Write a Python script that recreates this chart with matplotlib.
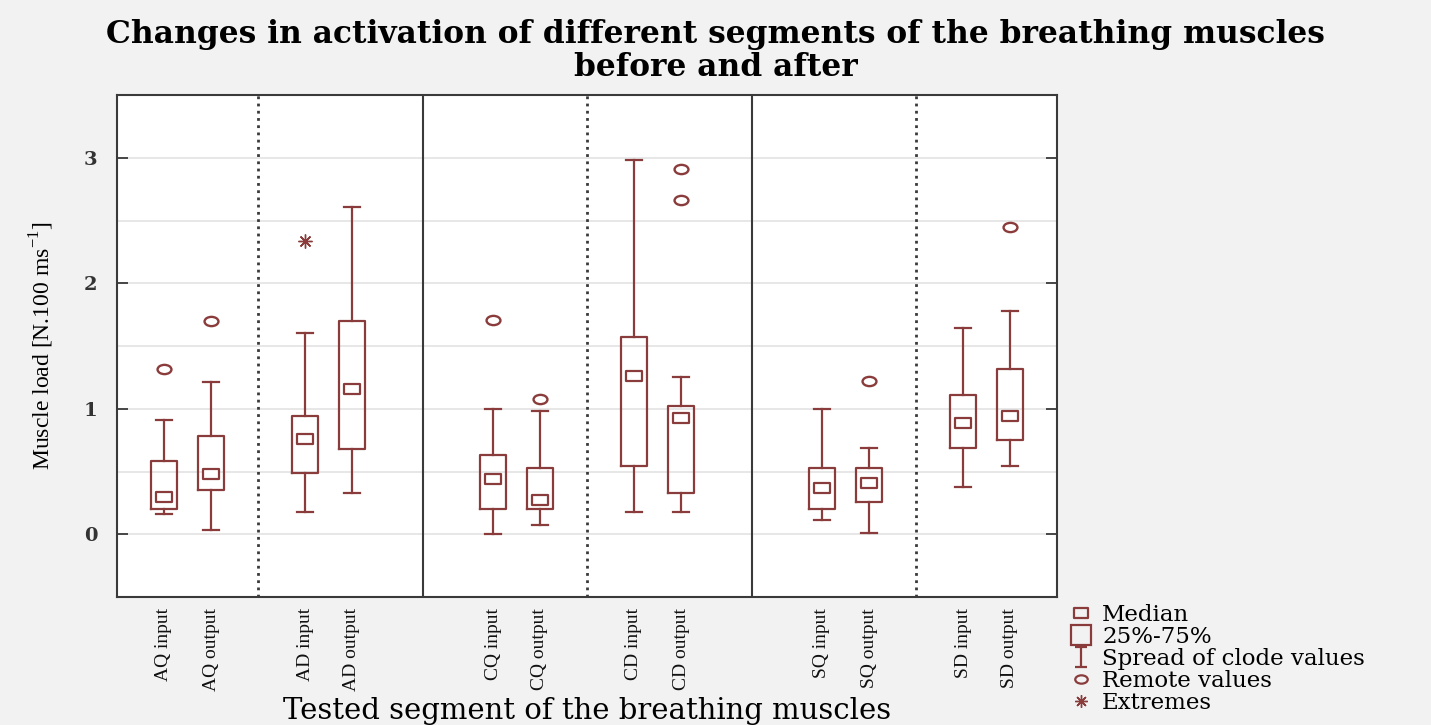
import numpy as np
import matplotlib
matplotlib.use("Agg")
from matplotlib import pyplot as plt
from matplotlib.path import Path
from matplotlib.lines import Line2D

# data (Muscle load, N.100 ms^-1)
labels = ["AQ input", "AQ output", "AD input", "AD output",
          "CQ input", "CQ output", "CD input", "CD output",
          "SQ input", "SQ output", "SD input", "SD output"]
q1 = [0.20, 0.35, 0.49, 0.68, 0.20, 0.20, 0.54, 0.33, 0.20, 0.26, 0.69, 0.75]
med = [0.30, 0.48, 0.76, 1.16, 0.44, 0.27, 1.26, 0.93, 0.37, 0.41, 0.89, 0.94]
q3 = [0.58, 0.78, 0.94, 1.70, 0.63, 0.53, 1.57, 1.02, 0.53, 0.53, 1.11, 1.32]
whislo = [0.16, 0.03, 0.18, 0.33, 0.00, 0.07, 0.18, 0.18, 0.11, 0.01, 0.38, 0.54]
whishi = [0.91, 1.21, 1.60, 2.61, 1.00, 0.98, 2.98, 1.25, 1.00, 0.69, 1.64, 1.78]
remote = [[1.32], [1.70], [], [], [1.71], [1.08], [], [2.91, 2.66], [], [1.22], [], [2.45]]
extremes = [[], [], [2.34], [], [], [], [], [], [], [], [], []]

col = "#8a3b3b"
grey = "#3a3a3a"

# 3 panels x 2 subgroups x 2 boxes
pos = [7 * p + 3 * s + b for p in range(3) for s in range(2) for b in range(2)]

# wide-ish markers (the reference is stretched horizontally)
circ = Path.unit_circle()
oval = Path(circ.vertices * [1.5, 1.0], circ.codes)
rect = Path([(-1.5, -1), (1.5, -1), (1.5, 1), (-1.5, 1), (-1.5, -1)],
            [Path.MOVETO, Path.LINETO, Path.LINETO, Path.LINETO, Path.CLOSEPOLY])
ibar = Path([(-0.6, 1), (0.6, 1), (0, 1), (0, -1), (-0.6, -1), (0.6, -1)],
            [Path.MOVETO, Path.LINETO, Path.MOVETO, Path.LINETO, Path.MOVETO, Path.LINETO])

fig = plt.figure(figsize=(14.31, 7.25), dpi=100)
fig.patch.set_facecolor("#f2f2f2")
ax = fig.add_axes([117 / 1431, 1 - 597 / 725, 940 / 1431, 502 / 725])
ax.set_facecolor("white")

stats = []
for i in range(len(labels)):
    stats.append(dict(label=labels[i], q1=q1[i], med=med[i], q3=q3[i],
                      whislo=whislo[i], whishi=whishi[i], fliers=[]))

lp = dict(color=col, linewidth=1.6)
ax.bxp(stats, positions=pos, widths=0.54, capwidths=0.36, showfliers=False,
       boxprops=lp, whiskerprops=lp, capprops=lp,
       medianprops=dict(linestyle="none"), zorder=3)

ax.plot(pos, med, linestyle="none", marker=rect, markersize=11,
        markerfacecolor="white", markeredgecolor=col, markeredgewidth=1.6, zorder=4)
for i in range(len(labels)):
    if remote[i]:
        ax.plot([pos[i]] * len(remote[i]), remote[i], linestyle="none", marker=oval,
                markersize=10, markerfacecolor="none", markeredgecolor=col,
                markeredgewidth=1.7, zorder=4)
    if extremes[i]:
        ax.plot([pos[i]] * len(extremes[i]), extremes[i], linestyle="none",
                marker=(8, 2, 0), markersize=10, color=col, markeredgewidth=1.0, zorder=4)

# panel dividers
for p in range(3):
    ax.axvline(7 * p + 2, color=grey, linestyle=(0, (1, 1.6)), linewidth=2, zorder=2)
for p in range(2):
    ax.axvline(7 * p + 5.5, color=grey, linewidth=1.5, zorder=2)

ax.set_xlim(-1, 19)
ax.set_ylim(-0.5, 3.5)
ax.set_yticks([0, 1, 2, 3])
ax.set_yticks(np.arange(-0.5, 3.6, 0.5), minor=True)
ax.grid(True, axis="y", which="both", color="#e0e0e0", linewidth=1.1, zorder=0)
ax.set_axisbelow(True)
ax.tick_params(axis="y", which="major", direction="in", length=8, width=1.3,
               left=True, right=True, pad=14, colors=grey)
ax.tick_params(axis="y", which="minor", length=0)
ax.tick_params(axis="x", length=0, pad=8)
for t in ax.get_yticklabels():
    t.set_fontfamily("DejaVu Serif")
    t.set_fontweight("bold")
    t.set_fontsize(14)
    t.set_color("#333333")
ax.set_xticks(pos)
ax.set_xticklabels(labels, rotation=90, fontfamily="Liberation Serif",
                   fontsize=14, color="#111111")
for s in ax.spines.values():
    s.set_color(grey)
    s.set_linewidth(1.5)

ax.set_ylabel("Muscle load [N.100 ms$^{\\mathregular{-1}}$]", fontfamily="Liberation Serif",
              fontsize=17, labelpad=20)
ax.set_xlabel("Tested segment of the breathing muscles", fontfamily="DejaVu Serif",
              fontsize=21, labelpad=4)

fig.text(0.5, 1 - 34 / 725, "Changes in activation of different segments of the breathing muscles",
         ha="center", va="center", fontfamily="DejaVu Serif", fontweight="bold", fontsize=22.5)
fig.text(0.5, 1 - 68 / 725, "before and after",
         ha="center", va="center", fontfamily="DejaVu Serif", fontweight="bold", fontsize=22.5)

handles = [
    Line2D([], [], linestyle="none", marker=rect, markersize=10, markerfacecolor="none",
           markeredgecolor=col, markeredgewidth=1.6),
    Line2D([], [], linestyle="none", marker="s", markersize=15, markerfacecolor="none",
           markeredgecolor=col, markeredgewidth=1.6),
    Line2D([], [], linestyle="none", marker=ibar, markersize=15, color=col, markeredgewidth=1.6),
    Line2D([], [], linestyle="none", marker=oval, markersize=9, markerfacecolor="none",
           markeredgecolor=col, markeredgewidth=1.6),
    Line2D([], [], linestyle="none", marker=(8, 2, 0), markersize=9, color=col, markeredgewidth=1),
]
names = ["Median", "25%-75%", "Spread of clode values", "Remote values", "Extremes"]
fig.legend(handles, names, loc="upper left", bbox_to_anchor=(1070 / 1431, 1 - 604 / 725),
           frameon=False, handlelength=1.0, handletextpad=0.4, labelspacing=0.0,
           borderpad=0, borderaxespad=0,
           prop=dict(family="DejaVu Serif", size=16.5))

fig.savefig("out.png", dpi=100, facecolor=fig.get_facecolor())
